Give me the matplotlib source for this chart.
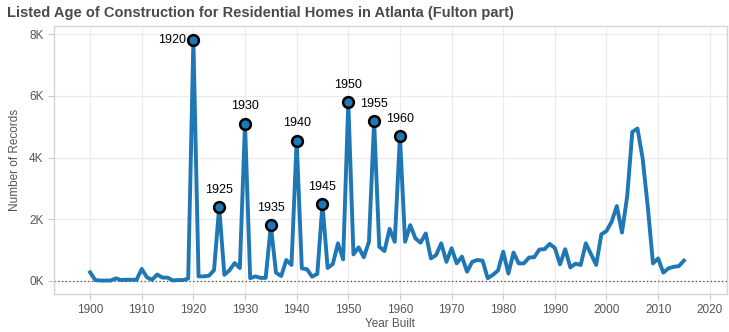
import matplotlib.pyplot as plt
from matplotlib.ticker import FuncFormatter

# Year built and number of records
years = list(range(1900, 2016))
records = [
    280, 30, 15, 15, 15, 85, 30, 40, 40, 40,            # 1900s
    390, 120, 40, 210, 110, 110, 20, 30, 30, 80,        # 1910s
    7800, 150, 150, 170, 350, 2400, 200, 350, 580, 420,  # 1920s
    5100, 90, 150, 100, 100, 1800, 270, 160, 680, 520,   # 1930s
    4550, 410, 380, 140, 230, 2490, 420, 550, 1220, 700,  # 1940s
    5800, 860, 1090, 770, 1270, 5180, 1110, 970, 1690, 1270,  # 1950s
    4700, 1270, 1810, 1380, 1240, 1540, 730, 840, 1220, 620,  # 1960s
    1060, 570, 790, 300, 620, 680, 660, 90, 200, 340,    # 1970s
    950, 240, 920, 570, 570, 760, 770, 1020, 1030, 1200,  # 1980s
    1070, 540, 1030, 440, 560, 520, 1220, 870, 520, 1510,  # 1990s
    1620, 1920, 2430, 1570, 2730, 4830, 4940, 3970, 2400, 570,  # 2000s
    730, 270, 410, 460, 480, 660,                        # 2010s
]
labelled_years = [1920, 1925, 1930, 1935, 1940, 1945, 1950, 1955, 1960]
title = 'Listed Age of Construction for Residential Homes in Atlanta (Fulton part)'

blue = '#1f77b4'
grey_text = '#555555'

plt.rcParams['font.family'] = ['Liberation Sans', 'DejaVu Sans']

fig = plt.figure(figsize=(7.29, 3.32), dpi=100)
ax = fig.add_axes([0.074, 0.1145, 0.923, 0.807])

ax.plot(years, records, color=blue, lw=2.8, solid_joinstyle='round', zorder=3)

lab_vals = [records[years.index(y)] for y in labelled_years]
ax.scatter(labelled_years, lab_vals, s=60, color=blue, edgecolor='black',
           linewidth=1.8, zorder=4)
for yr, v in zip(labelled_years, lab_vals):
    if yr == 1920:
        ax.annotate(str(yr), (yr, v), xytext=(-5, 0), textcoords='offset points',
                    ha='right', va='center', fontsize=9, color='black')
    else:
        ax.annotate(str(yr), (yr, v), xytext=(0, 8), textcoords='offset points',
                    ha='center', va='bottom', fontsize=9, color='black')

ax.axhline(0, color='#444444', lw=0.9, ls=(0, (1, 2)), zorder=2)

ax.set_xlim(1893, 2023.3)
ax.set_ylim(-421, 8259)
ax.set_xticks(range(1900, 2021, 10))
ax.set_yticks(range(0, 8001, 2000))
ax.yaxis.set_major_formatter(FuncFormatter(lambda v, p: f'{int(v / 1000)}K'))
ax.grid(True, color='#ebebeb', lw=0.9, zorder=0)
ax.set_axisbelow(True)
for s in ax.spines.values():
    s.set_color('#d4d4d4')
    s.set_linewidth(1)
ax.tick_params(axis='both', colors='#c8c8c8', labelcolor=grey_text,
               labelsize=8.5, length=4, width=0.8)

ax.set_xlabel('Year Built', fontsize=8.5, color=grey_text, labelpad=1)
ax.set_ylabel('Number of Records', fontsize=8.5, color=grey_text, labelpad=6)

fig.text(0.009, 0.962, title, fontsize=10.5, fontweight='bold', color='#4a4a4a',
         family=['Liberation Sans Narrow', 'DejaVu Sans Condensed', 'Liberation Sans'],
         va='center', ha='left')

fig.savefig('out.png', dpi=100)
